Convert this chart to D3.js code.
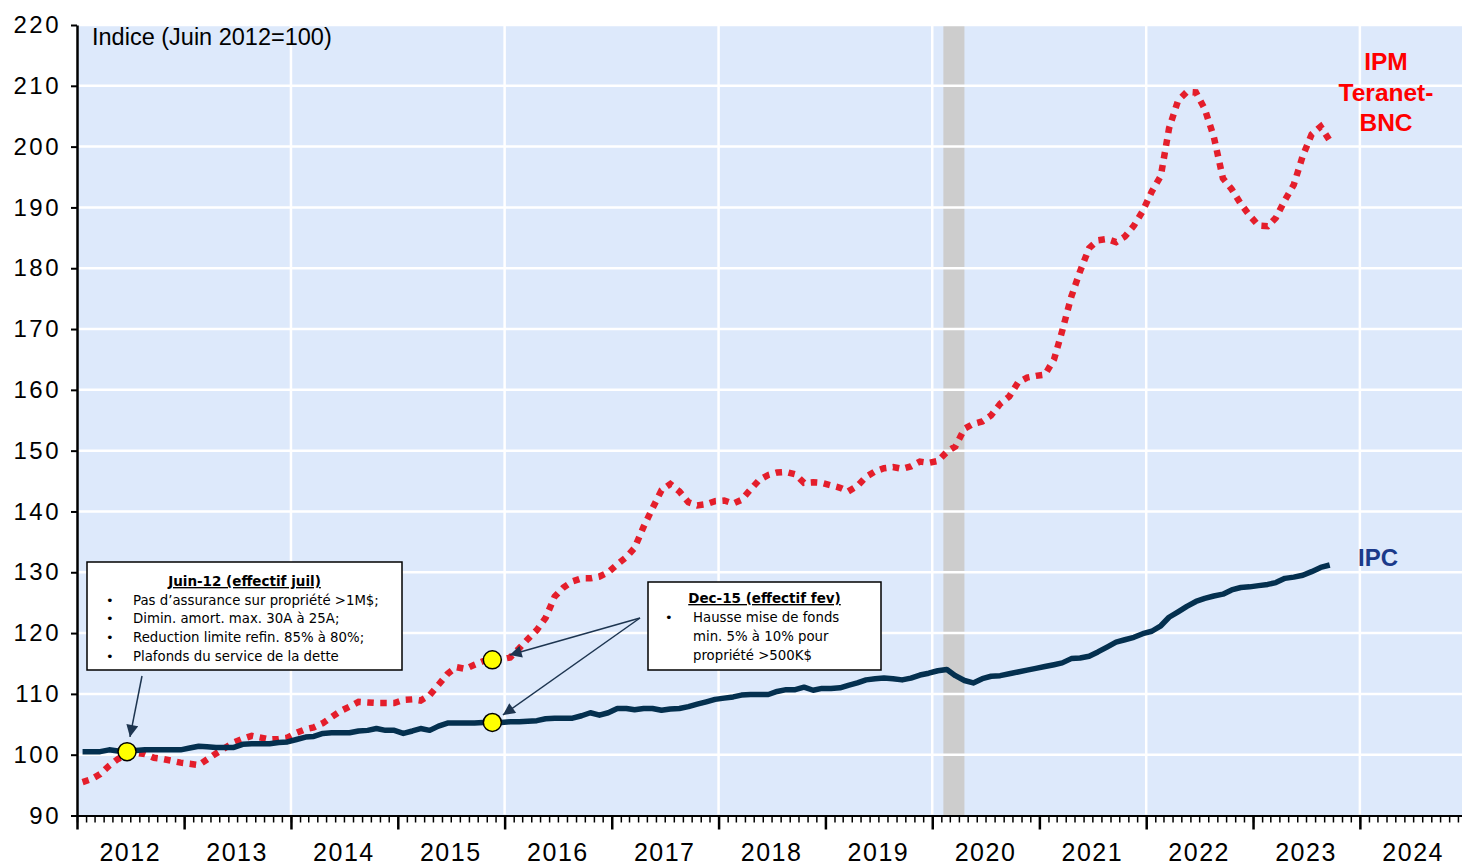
<!DOCTYPE html>
<html>
<head>
<meta charset="utf-8">
<script src="https://cdn.jsdelivr.net/npm/d3@7"></script>
<style>
  body { margin: 0; background: #fff; }
  svg { display: block; font-family: "Liberation Sans", Arial, sans-serif; }
</style>
</head>
<body>
<svg id="chart"></svg>
<script>

//******************************************************************************
//**  Data (monthly, first value = Jan 2012)
//******************************************************************************
var startYear = 2012;

var ipc = [
    100.5,100.5,100.5,100.8,100.6,100.5,100.7,100.8,100.8,100.8,100.8,100.8, //2012
    101.1,101.4,101.3,101.2,101.2,101.2,101.7,101.8,101.8,101.8,102.0,102.1, //2013
    102.5,102.9,103.0,103.5,103.6,103.6,103.6,103.9,104.0,104.3,104.0,104.0, //2014
    103.5,103.9,104.3,104.0,104.7,105.2,105.2,105.2,105.2,105.3,105.3,105.3, //2015
    105.4,105.4,105.5,105.6,105.9,106.0,106.0,106.0,106.4,106.9,106.5,106.9, //2016
    107.6,107.6,107.4,107.6,107.6,107.3,107.5,107.6,107.9,108.3,108.7,109.1, //2017
    109.3,109.5,109.8,109.9,109.9,109.9,110.4,110.7,110.7,111.1,110.6,110.9, //2018
    110.9,111.0,111.4,111.8,112.3,112.5,112.6,112.5,112.3,112.6,113.1,113.4, //2019
    113.8,114.0,113.0,112.2,111.8,112.5,112.9,113.0,113.3,113.6,113.9,114.2, //2020
    114.5,114.8,115.1,115.8,115.9,116.2,116.9,117.7,118.5,118.9,119.3,119.9, //2021
    120.3,121.2,122.6,123.5,124.4,125.2,125.7,126.1,126.4,127.1,127.5,127.6, //2022
    127.8,128.0,128.3,129.0,129.2,129.5,130.1,130.8,131.2                    //2023
];

var ipm = [
    95.5,96.0,96.8,98.2,99.3,100.0,100.3,100.1,99.5,99.3,99.0,98.7,          //2012
    98.5,98.3,99.2,100.2,101.1,102.0,102.6,103.1,102.8,102.5,102.6,102.8,    //2013
    103.6,104.2,104.5,105.2,106.2,107.2,107.9,108.7,108.6,108.5,108.5,108.5, //2014
    109.0,109.1,108.9,109.8,111.5,113.3,114.4,114.1,114.8,115.4,115.6,115.7, //2015
    116.0,117.5,119.0,120.5,122.5,126.0,127.5,128.5,129.0,129.0,129.3,130.0, //2016
    131.3,132.5,134.0,137.5,140.5,143.5,144.5,143.3,141.5,141.0,141.2,141.7, //2017
    141.8,141.3,141.9,143.6,145.2,146.0,146.4,146.5,146.1,144.7,144.8,144.7, //2018
    144.3,143.9,143.3,144.2,145.7,146.6,147.1,147.3,147.0,147.4,148.2,148.0, //2019
    148.3,149.8,150.7,153.6,154.4,154.8,155.8,157.7,158.9,161.2,162.0,162.3, //2020
    162.5,165.0,169.7,175.3,179.5,183.3,184.6,184.8,184.3,185.2,187.0,189.4, //2021
    192.6,195.2,203.0,207.6,209.0,208.9,206.2,201.6,194.8,193.0,190.6,188.7, //2022
    187.0,186.9,188.3,191.2,193.7,198.5,202.0,203.3,201.0                    //2023
];

var yTicks = [90,100,110,120,130,140,150,160,170,180,190,200,210,220];
var yearLabels = ["2012","2013","2014","2015","2016","2017","2018","2019","2020","2021","2022","2023","2024"];
var gridYears = [2014,2016,2018,2020,2022,2024];
var recession = ["2020-02-08","2020-04-20"];

//events: month index of the marked point
var events = [
    {month: 5, title: "Juin-12 (effectif juil)", lines: [
        "Pas d\u2019assurance sur propri\u00e9t\u00e9 >1M$;",
        "Dimin. amort. max. 30A \u00e0 25A;",
        "Reduction limite refin. 85% \u00e0 80%;",
        "Plafonds du service de la dette"
    ]},
    {month: 46, title: "Dec-15 (effectif fev)", lines: [
        "Hausse mise de fonds",
        "min. 5% \u00e0 10% pour",
        "propri\u00e9t\u00e9 >500K$"
    ]}
];


//******************************************************************************
//**  Chart
//******************************************************************************
var width = 1462, height = 865;
var plot = {left: 77, top: 25, right: 1467, bottom: 815.5};
var navy = "#04304f", red = "#e41e2b";

var svg = d3.select("#chart").attr("width", width).attr("height", height);

var toDate = function(i){ return new Date(startYear, i, 20); };

var x = d3.scaleTime()
    .domain([new Date(2012,0,1), new Date(2025,0,1)])
    .range([plot.left, plot.right]);

var y = d3.scaleLinear()
    .domain([90, 220])
    .range([plot.bottom, plot.top]);


//background
svg.append("rect")
    .attr("x", plot.left).attr("y", plot.top)
    .attr("width", plot.right - plot.left).attr("height", plot.bottom - plot.top)
    .attr("fill", "#dde9fb");

//recession band
svg.append("rect")
    .attr("x", x(new Date(recession[0])))
    .attr("y", plot.top)
    .attr("width", x(new Date(recession[1])) - x(new Date(recession[0])))
    .attr("height", plot.bottom - plot.top)
    .attr("fill", "#cdcdcd");

//grid
var grid = svg.append("g").attr("stroke", "#fff").attr("stroke-width", 2.5);
grid.selectAll("line.h")
    .data(yTicks.filter(function(d){ return d > 90; }))
    .enter().append("line")
    .attr("x1", plot.left + 1).attr("x2", plot.right)
    .attr("y1", function(d){ return y(d); })
    .attr("y2", function(d){ return y(d); });
grid.selectAll("line.v")
    .data(gridYears)
    .enter().append("line")
    .attr("x1", function(d){ return x(new Date(d,0,1)); })
    .attr("x2", function(d){ return x(new Date(d,0,1)); })
    .attr("y1", plot.top).attr("y2", plot.bottom - 1);


//lines
var line = d3.line()
    .x(function(d, i){ return x(toDate(i)); })
    .y(function(d){ return y(d); });

svg.append("path")
    .datum(ipm)
    .attr("d", line)
    .attr("fill", "none")
    .attr("stroke", red)
    .attr("stroke-width", 6.5)
    .attr("stroke-dasharray", "6.5,6.5");

svg.append("path")
    .datum(ipc)
    .attr("d", line)
    .attr("fill", "none")
    .attr("stroke", navy)
    .attr("stroke-width", 5.5)
    .attr("stroke-linejoin", "round");


//y axis
var yAxis = svg.append("g")
    .attr("transform", "translate(" + plot.left + ",0)")
    .call(d3.axisLeft(y).tickValues(yTicks).tickSize(6).tickSizeOuter(0).tickPadding(10));
yAxis.select(".domain").attr("stroke-width", 2.5);
yAxis.selectAll(".tick line").attr("stroke-width", 2);
yAxis.selectAll("text")
    .attr("font-family", "Liberation Sans, Arial")
    .attr("font-size", 24)
    .attr("letter-spacing", 2.5)
    .attr("fill", "#000");

//x axis: monthly minor and yearly major ticks
var xMinor = svg.append("g")
    .attr("transform", "translate(0," + plot.bottom + ")")
    .call(d3.axisBottom(x).ticks(d3.timeMonth.every(1)).tickSize(7).tickSizeOuter(0).tickFormat(""));
xMinor.select(".domain").attr("stroke-width", 2);
xMinor.selectAll(".tick line").attr("stroke-width", 1.5);

var xMajor = svg.append("g")
    .attr("transform", "translate(0," + plot.bottom + ")")
    .call(d3.axisBottom(x).ticks(d3.timeYear.every(1)).tickSize(14).tickSizeOuter(0).tickFormat(""));
xMajor.select(".domain").remove();
xMajor.selectAll(".tick line").attr("stroke-width", 2.5);

svg.append("g").selectAll("text")
    .data(yearLabels)
    .enter().append("text")
    .attr("x", function(d){ return x(new Date(+d, 6, 1)); })
    .attr("y", 861)
    .attr("text-anchor", "middle")
    .attr("font-size", 25)
    .attr("letter-spacing", 1.5)
    .text(function(d){ return d; });


//labels
svg.append("text")
    .attr("x", 92).attr("y", 45)
    .attr("font-size", 23.5)
    .text("Indice (Juin 2012=100)");

svg.append("text")
    .attr("x", 1386).attr("y", 70)
    .attr("text-anchor", "middle")
    .attr("font-size", 24.5).attr("font-weight", "bold")
    .attr("fill", "#f00")
    .selectAll("tspan")
    .data(["IPM", "Teranet-", "BNC"])
    .enter().append("tspan")
    .attr("x", 1386)
    .attr("dy", function(d, i){ return i ? 30.5 : 0; })
    .text(function(d){ return d; });

svg.append("text")
    .attr("x", 1378).attr("y", 566)
    .attr("text-anchor", "middle")
    .attr("font-size", 24).attr("font-weight", "bold")
    .attr("fill", "#1b3a8a")
    .text("IPC");


//******************************************************************************
//**  Annotations
//******************************************************************************
svg.append("defs").append("marker")
    .attr("id", "arrow")
    .attr("viewBox", "0 0 10 10")
    .attr("refX", 10).attr("refY", 5)
    .attr("markerWidth", 13).attr("markerHeight", 12)
    .attr("markerUnits", "userSpaceOnUse")
    .attr("orient", "auto")
    .append("path")
    .attr("d", "M0,0 L10,5 L0,10 Z")
    .attr("fill", "#1d3550");

var boxes = [
    {x: 87, y: 562, w: 315, h: 108, titleDy: 24, textX: 133, bulletX: 106, lineH: 18.7},
    {x: 648, y: 582, w: 233, h: 88, titleDy: 21, textX: 693, bulletX: 665, lineH: 19}
];

var drawArrow = function(x1, y1, x2, y2, gap){
    var dx = x2 - x1, dy = y2 - y1, len = Math.sqrt(dx*dx + dy*dy);
    svg.append("line")
        .attr("x1", x1).attr("y1", y1)
        .attr("x2", x2 - dx/len*gap).attr("y2", y2 - dy/len*gap)
        .attr("stroke", "#1d3550").attr("stroke-width", 1.5)
        .attr("marker-end", "url(#arrow)");
};

//arrows: box anchor -> marked points
var p1 = {x: x(toDate(events[0].month)), y: y(ipc[events[0].month])};
var p2 = {x: x(toDate(events[1].month)), y: y(ipm[events[1].month])};
var p3 = {x: x(toDate(events[1].month)), y: y(ipc[events[1].month])};
drawArrow(142, 676, p1.x, p1.y, 15);
drawArrow(640, 618, p2.x, p2.y, 18);
drawArrow(640, 618, p3.x, p3.y, 13);

//yellow markers
svg.append("g").selectAll("circle")
    .data([p1, p2, p3])
    .enter().append("circle")
    .attr("cx", function(d){ return d.x; })
    .attr("cy", function(d){ return d.y; })
    .attr("r", 9)
    .attr("fill", "#ffff00")
    .attr("stroke", "#000")
    .attr("stroke-width", 1.5);

//boxes
events.forEach(function(ev, k){
    var b = boxes[k];
    var g = svg.append("g").attr("font-family", "DejaVu Sans, Verdana, sans-serif");
    g.append("rect")
        .attr("x", b.x).attr("y", b.y).attr("width", b.w).attr("height", b.h)
        .attr("fill", "#fff").attr("stroke", "#000").attr("stroke-width", 1.5);
    g.append("text")
        .attr("x", b.x + b.w/2).attr("y", b.y + b.titleDy)
        .attr("text-anchor", "middle")
        .attr("font-size", 13.5).attr("font-weight", "bold")
        .attr("text-decoration", "underline")
        .text(ev.title);
    ev.lines.forEach(function(t, i){
        var ty = b.y + b.titleDy + b.lineH * (i + 1);
        if (k === 0 || i === 0){
            g.append("text").attr("x", b.bulletX).attr("y", ty)
                .attr("font-size", 13).text("\u2022");
        }
        g.append("text").attr("x", b.textX).attr("y", ty)
            .attr("font-size", 13.3).text(t);
    });
});

</script>
</body>
</html>
